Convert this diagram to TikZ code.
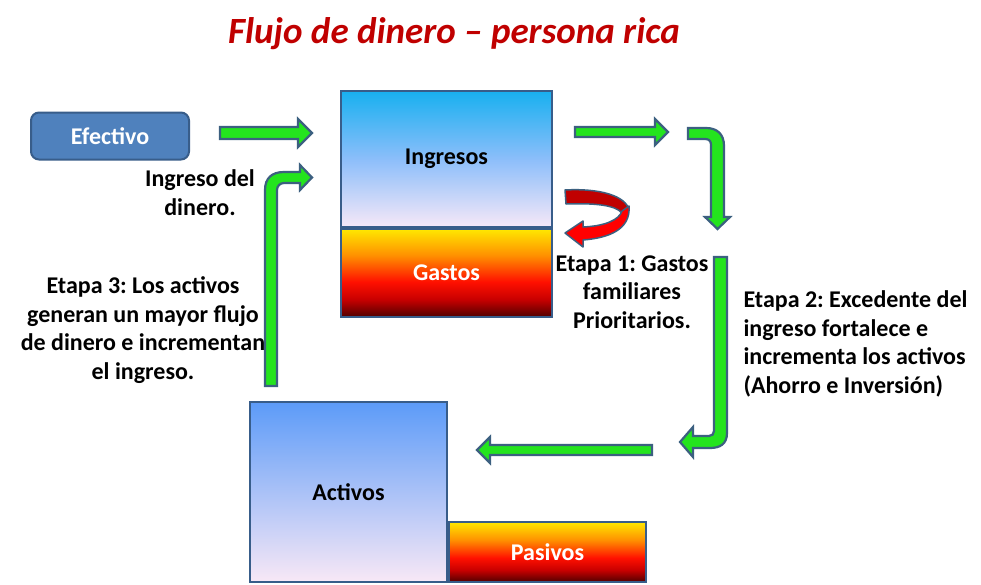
\documentclass[tikz,border=0pt]{standalone}
\usepackage{fontspec}
\setmainfont{Carlito}
\frenchspacing
\definecolor{boxborder}{RGB}{56,93,138}
\definecolor{arrowborder}{RGB}{60,96,128}
\definecolor{arrowgreen}{RGB}{36,228,30}
\definecolor{efblue}{RGB}{79,129,189}
\definecolor{titlered}{RGB}{192,0,0}
\definecolor{ingtop}{RGB}{24,176,240}
\definecolor{ingmid}{RGB}{140,190,250}
\definecolor{ingbot}{RGB}{246,232,248}
\definecolor{acttop}{RGB}{92,155,248}
\definecolor{actmid}{RGB}{140,192,250}
\definecolor{actbot}{RGB}{248,232,246}
\definecolor{fg0}{RGB}{80,0,0}
\definecolor{fg1}{RGB}{200,0,0}
\definecolor{fg2}{RGB}{255,16,0}
\definecolor{fg3}{RGB}{255,144,0}
\definecolor{fg4}{RGB}{255,232,0}
\definecolor{backred}{RGB}{192,0,0}
\definecolor{frontred}{RGB}{255,0,0}
\pgfdeclareverticalshading{fire}{100bp}{color(0bp)=(fg0); color(25bp)=(fg0); color(35bp)=(fg1); color(45bp)=(fg2); color(60bp)=(fg3); color(75bp)=(fg4); color(100bp)=(fg4)}
\tikzset{
  lbl/.style={font=\bfseries\fontsize{24}{28.7}\selectfont, align=center},
  block/.style={draw=boxborder, line width=2pt, inner sep=0pt, font=\bfseries\fontsize{24}{28}\selectfont},
  bluebox/.style={block, top color=#1, bottom color=ingbot, middle color=ingmid},
  firebox/.style={block, shading=fire, text=white},
  garrow/.style={draw=arrowborder, fill=arrowgreen, line width=2.2pt, line join=miter},
  rarrow/.style={draw=arrowborder, line width=1.5pt, line join=round}
}
\begin{document}
\begin{tikzpicture}[x=1pt,y=-1pt]
\useasboundingbox (0,0) rectangle (981,584);
\fill[white] (0,0) rectangle (981,584);

\node[font=\bfseries\itshape\fontsize{37}{42}\selectfont, text=titlered] (title) at (454,34) {Flujo de dinero -- persona rica};

\node[draw=boxborder, fill=efblue, line width=2pt, rounded corners=8pt, minimum width=158, minimum height=47, text=white, font=\bfseries\fontsize{24}{28}\selectfont] (efectivo) at (110,136) {Efectivo};

\node[bluebox=ingtop, minimum width=211, minimum height=136] (ingresos) at (446.5,159) {Ingresos};
\node[firebox, minimum width=211, minimum height=88, anchor=north] (gastos) at (ingresos.south) {Gastos};

\node[block, top color=acttop, middle color=actmid, bottom color=actbot, minimum width=197, minimum height=180] (activos) at (348.5,492) {Activos};
\node[firebox, minimum width=197, minimum height=60, anchor=south west] (pasivos) at (activos.south east) {Pasivos};

% green arrows
\draw[garrow] (220,127) -- (298,127) -- (298,119) -- (312,133) -- (298,147) -- (298,139) -- (220,139) -- cycle;
\draw[garrow] (575,127) -- (655,127) -- (655,119) -- (668,132) -- (655,145) -- (655,137) -- (575,137) -- cycle;
\draw[garrow] (688,128) -- (706,128) .. controls (717,128) and (724,134) .. (724,146) -- (724,217) -- (730,217) -- (717.5,229) -- (705,217) -- (711,217) -- (711,145) .. controls (711,141) and (709,139) .. (705,139) -- (688,139) -- cycle;
\draw[garrow] (727,257) -- (727,433) .. controls (727,444) and (720,448) .. (710,448) -- (693,448) -- (693,457) -- (680,442) -- (693,427) -- (693,436) -- (709,436) .. controls (712,436) and (714,434) .. (714,431) -- (714,257) -- cycle;
\draw[garrow] (652,445) -- (490,445) -- (490,437) -- (477,450) -- (490,463) -- (490,455) -- (652,455) -- cycle;
\draw[garrow] (265,386) -- (265,190) .. controls (265,178) and (272,172) .. (284,172) -- (300,172) -- (300,165) -- (312,177.5) -- (300,190) -- (300,183) -- (284,183) .. controls (280,183) and (277,186) .. (277,190) -- (277,386) -- cycle;

% red U-turn arrow
\draw[rarrow, fill=backred] (565,190) .. controls (600,188) and (626,196) .. (629,210) -- (622,213) .. controls (615,205) and (595,203) .. (566,204) -- cycle;
\draw[rarrow, fill=frontred] (629,206) .. controls (631,230) and (608,238) .. (583,240) -- (583,247) -- (565,233) -- (583,221) -- (583,227) .. controls (605,226) and (619,220) .. (622,211) -- cycle;

% labels
\node[lbl] (lingreso) at (200,193) {Ingreso del\\dinero.};
\node[lbl] (letapa3) at (143,330) {Etapa 3: Los activos\\generan un mayor flujo\\de dinero e incrementan\\el ingreso.};
\node[lbl] (letapa1) at (632,292) {Etapa 1: Gastos\\familiares\\Prioritarios.};
\node[lbl, align=left, anchor=west] (letapa2) at (740,344) {Etapa 2: Excedente del\\ingreso fortalece e\\incrementa los activos\\(Ahorro e Inversión)};
\end{tikzpicture}
\end{document}
